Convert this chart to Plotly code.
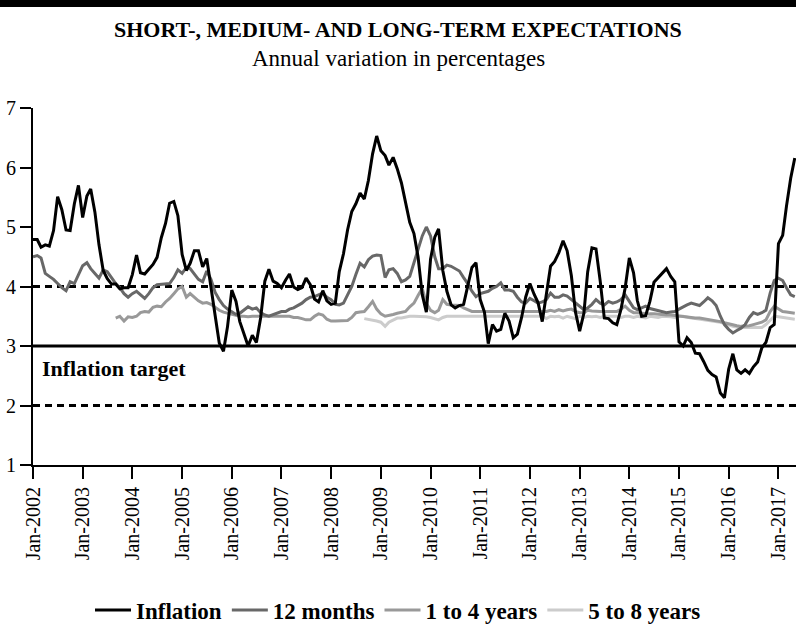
import pandas as pd
import plotly.graph_objects as go

# ---------------- data (monthly, annual % variation) ----------------
START_ALL = "2002-01-01"      # Inflation and 12 months start
START_1_4 = "2003-09-01"      # 1 to 4 years start
START_5_8 = "2008-09-01"      # 5 to 8 years start

inflation = [
    4.79, 4.79, 4.66, 4.70, 4.68, 4.94, 5.51, 5.29, 4.95, 4.94, 5.39, 5.70,  # 2002
    5.16, 5.52, 5.64, 5.25, 4.70, 4.27, 4.13, 4.04, 4.04, 3.96, 3.98, 3.98,  # 2003
    4.20, 4.53, 4.23, 4.21, 4.29, 4.37, 4.49, 4.82, 5.06, 5.40, 5.43, 5.19,  # 2004
    4.54, 4.27, 4.39, 4.60, 4.60, 4.33, 4.47, 3.95, 3.51, 3.05, 2.91, 3.33,  # 2005
    3.94, 3.75, 3.41, 3.20, 3.00, 3.18, 3.06, 3.47, 4.09, 4.29, 4.09, 4.05,  # 2006
    3.98, 4.11, 4.21, 3.99, 3.95, 3.98, 4.14, 4.03, 3.79, 3.74, 3.93, 3.76,  # 2007
    3.70, 3.72, 4.25, 4.55, 4.95, 5.26, 5.39, 5.57, 5.47, 5.78, 6.23, 6.53,  # 2008
    6.28, 6.20, 6.04, 6.17, 5.98, 5.74, 5.44, 5.08, 4.89, 4.50, 3.86, 3.57,  # 2009
    4.46, 4.83, 4.97, 4.27, 3.92, 3.69, 3.64, 3.68, 3.70, 4.02, 4.32, 4.40,  # 2010
    3.78, 3.57, 3.04, 3.36, 3.25, 3.28, 3.55, 3.42, 3.14, 3.20, 3.48, 3.82,  # 2011
    4.05, 3.87, 3.73, 3.41, 3.85, 4.34, 4.42, 4.57, 4.77, 4.60, 4.18, 3.57,  # 2012
    3.25, 3.55, 4.25, 4.65, 4.63, 4.09, 3.47, 3.46, 3.39, 3.36, 3.62, 3.97,  # 2013
    4.48, 4.23, 3.76, 3.50, 3.51, 3.75, 4.07, 4.15, 4.22, 4.30, 4.17, 4.08,  # 2014
    3.07, 3.00, 3.14, 3.06, 2.88, 2.87, 2.74, 2.59, 2.52, 2.48, 2.21, 2.13,  # 2015
    2.61, 2.87, 2.60, 2.54, 2.60, 2.54, 2.65, 2.73, 2.97, 3.06, 3.31, 3.36,  # 2016
    4.72, 4.86, 5.35, 5.82, 6.16,                                            # 2017
]

months_12 = [
    4.50, 4.52, 4.48, 4.22, 4.17, 4.12, 4.05, 3.98, 3.93, 4.08, 4.05, 4.20,  # 2002
    4.35, 4.40, 4.30, 4.22, 4.14, 4.28, 4.25, 4.15, 4.05, 3.98, 3.88, 3.82,  # 2003
    3.88, 3.92, 3.86, 3.80, 3.88, 3.98, 4.03, 4.04, 4.05, 4.05, 4.15, 4.28,  # 2004
    4.22, 4.32, 4.30, 4.20, 4.12, 4.08, 4.26, 4.12, 3.90, 3.78, 3.68, 3.62,  # 2005
    3.58, 3.53, 3.55, 3.60, 3.66, 3.62, 3.64, 3.56, 3.52, 3.50, 3.53, 3.56,  # 2006
    3.58, 3.58, 3.62, 3.64, 3.68, 3.72, 3.78, 3.82, 3.83, 3.86, 3.89, 3.82,  # 2007
    3.78, 3.70, 3.69, 3.72, 3.86, 4.00, 4.20, 4.39, 4.33, 4.45, 4.51, 4.53,  # 2008
    4.52, 4.15, 4.28, 4.30, 4.22, 4.08, 4.11, 4.17, 4.40, 4.62, 4.85, 5.00,  # 2009
    4.85, 4.50, 4.30, 4.30, 4.36, 4.34, 4.30, 4.26, 4.15, 4.05, 3.92, 3.83,  # 2010
    3.88, 3.90, 3.92, 3.97, 4.00, 4.06, 3.94, 3.94, 3.92, 3.82, 3.74, 3.72,  # 2011
    3.80, 3.76, 3.72, 3.74, 3.78, 3.89, 3.82, 3.82, 3.86, 3.84, 3.78, 3.72,  # 2012
    3.66, 3.61, 3.64, 3.70, 3.78, 3.72, 3.69, 3.75, 3.72, 3.74, 3.78, 3.86,  # 2013
    3.75, 3.64, 3.61, 3.64, 3.67, 3.63, 3.61, 3.59, 3.58, 3.56, 3.57, 3.58,  # 2014
    3.62, 3.66, 3.69, 3.72, 3.70, 3.68, 3.74, 3.81, 3.76, 3.68, 3.50, 3.36,  # 2015
    3.28, 3.22, 3.26, 3.30, 3.36, 3.48, 3.56, 3.53, 3.56, 3.60, 3.89, 4.10,  # 2016
    4.14, 4.10, 3.98, 3.86, 3.83,                                            # 2017
]

years_1_4 = [
    3.47, 3.50, 3.42, 3.49,                                                  # 2003 (Sep-Dec)
    3.48, 3.50, 3.56, 3.58, 3.57, 3.65, 3.67, 3.66, 3.74, 3.80, 3.88, 3.96,  # 2004
    4.00, 3.82, 3.88, 3.82, 3.76, 3.72, 3.73, 3.70, 3.65, 3.60, 3.57, 3.55,  # 2005
    3.53, 3.51, 3.50, 3.50, 3.49, 3.50, 3.50, 3.49, 3.50, 3.50, 3.49, 3.50,  # 2006
    3.50, 3.50, 3.50, 3.48, 3.48, 3.46, 3.44, 3.44, 3.50, 3.54, 3.52, 3.45,  # 2007
    3.42, 3.42, 3.42, 3.42, 3.43, 3.48, 3.56, 3.57, 3.58, 3.66, 3.75, 3.62,  # 2008
    3.54, 3.50, 3.52, 3.53, 3.55, 3.56, 3.58, 3.66, 3.72, 3.85, 3.97, 3.72,  # 2009
    3.60, 3.56, 3.60, 3.78, 3.70, 3.69, 3.69, 3.68, 3.64, 3.61, 3.58, 3.58,  # 2010
    3.58, 3.58, 3.58, 3.57, 3.58, 3.58, 3.58, 3.58, 3.57, 3.58, 3.58, 3.58,  # 2011
    3.58, 3.58, 3.57, 3.58, 3.58, 3.60, 3.58, 3.61, 3.59, 3.61, 3.62, 3.58,  # 2012
    3.56, 3.56, 3.60, 3.59, 3.58, 3.58, 3.58, 3.58, 3.58, 3.58, 3.62, 3.67,  # 2013
    3.60, 3.56, 3.56, 3.55, 3.55, 3.54, 3.54, 3.53, 3.53, 3.52, 3.52, 3.51,  # 2014
    3.50, 3.50, 3.49, 3.48, 3.47, 3.47, 3.46, 3.45, 3.44, 3.43, 3.41, 3.39,  # 2015
    3.37, 3.35, 3.34, 3.33, 3.33, 3.34, 3.36, 3.38, 3.40, 3.44, 3.58, 3.67,  # 2016
    3.62, 3.58, 3.57, 3.56, 3.55,                                            # 2017
]

years_5_8 = [
    3.46, 3.45, 3.44, 3.42,                                                  # 2008 (Sep-Dec)
    3.40, 3.33, 3.40, 3.44, 3.47, 3.47, 3.49, 3.50, 3.50, 3.50, 3.50, 3.49,  # 2009
    3.48, 3.46, 3.44, 3.48, 3.50, 3.50, 3.50, 3.50, 3.50, 3.50, 3.50, 3.50,  # 2010
    3.50, 3.50, 3.50, 3.50, 3.50, 3.50, 3.50, 3.50, 3.50, 3.50, 3.50, 3.50,  # 2011
    3.50, 3.50, 3.50, 3.50, 3.46, 3.50, 3.49, 3.50, 3.47, 3.50, 3.48, 3.46,  # 2012
    3.50, 3.48, 3.50, 3.49, 3.50, 3.48, 3.50, 3.50, 3.49, 3.50, 3.48, 3.50,  # 2013
    3.50, 3.48, 3.50, 3.49, 3.47, 3.50, 3.49, 3.48, 3.50, 3.50, 3.49, 3.48,  # 2014
    3.50, 3.50, 3.48, 3.47, 3.46, 3.45, 3.44, 3.44, 3.43, 3.42, 3.40, 3.38,  # 2015
    3.35, 3.33, 3.32, 3.31, 3.31, 3.31, 3.31, 3.31, 3.31, 3.36, 3.44, 3.50,  # 2016
    3.49, 3.48, 3.47, 3.46, 3.45,                                            # 2017
]

series_names = ["Inflation", "12 months", "1 to 4 years", "5 to 8 years"]
target_center = 3
target_upper = 4
target_lower = 2
target_label = "Inflation target"
title_text = "SHORT-, MEDIUM- AND LONG-TERM EXPECTATIONS"
subtitle_text = "Annual variation in percentages"

# ---------------- build figure ----------------
def dates(start, n):
    return pd.date_range(start, periods=n, freq="MS")

FONT = "Liberation Serif"
W, H = 796, 639
ML, MR, MT, MB = 33, 0, 108, 174
PW, PH = W - ML - MR, H - MT - MB

fig = go.Figure()
traces = [
    (series_names[3], dates(START_5_8, len(years_5_8)), years_5_8, "#cccccc"),
    (series_names[2], dates(START_1_4, len(years_1_4)), years_1_4, "#999999"),
    (series_names[1], dates(START_ALL, len(months_12)), months_12, "#686868"),
    (series_names[0], dates(START_ALL, len(inflation)), inflation, "#000000"),
]
for name, x, y, col in traces:
    fig.add_trace(go.Scatter(x=x, y=y, name=name, mode="lines",
                             line=dict(color=col, width=3)))

# reference lines
for val, dash in [(target_upper, "7px,5px"), (target_center, "solid"), (target_lower, "7px,5px")]:
    fig.add_shape(type="line", xref="paper", yref="y", x0=0, x1=1, y0=val, y1=val,
                  line=dict(color="black", width=3, dash=dash), layer="below")

# thick top rule
fig.add_shape(type="rect", xref="paper", yref="paper",
              x0=-ML / PW, x1=1.0, y0=1 + (MT - 7) / PH, y1=1 + MT / PH,
              fillcolor="black", line=dict(width=0), layer="above")

center_x = (W / 2 - ML) / PW
fig.add_annotation(text=f"<b>{title_text}</b>", xref="paper", yref="paper",
                   x=center_x, y=1 + (MT - 30) / PH, xanchor="center", yanchor="middle",
                   showarrow=False, font=dict(family=FONT, size=22, color="black"))
fig.add_annotation(text=subtitle_text, xref="paper", yref="paper",
                   x=center_x, y=1 + (MT - 58) / PH, xanchor="center", yanchor="middle",
                   showarrow=False, font=dict(family=FONT, size=23, color="black"))
fig.add_annotation(text=f"<b>{target_label}</b>", xref="paper", yref="y",
                   x=7 / PW, y=2.63, xanchor="left", yanchor="middle",
                   showarrow=False, font=dict(family=FONT, size=22, color="black"))

fig.update_layout(
    width=W, height=H,
    margin=dict(l=ML, r=MR, t=MT, b=MB, pad=0, autoexpand=False),
    paper_bgcolor="white", plot_bgcolor="white",
    font=dict(family=FONT, color="black", size=20),
    showlegend=True,
    legend=dict(orientation="h", traceorder="reversed",
                xref="container", yref="container",
                x=0.5, xanchor="center", y=1 - 610 / H, yanchor="middle",
                font=dict(family=FONT, size=23, color="black", weight="bold"),
                itemwidth=36, bgcolor="rgba(0,0,0,0)"),
)
fig.update_xaxes(type="date", range=["2002-01-01", "2017-05-10"], automargin=False,
                 tick0="2002-01-01", dtick="M12", tickformat="%b-%Y",
                 tickangle=-90, ticks="outside", ticklen=12, tickwidth=1.5,
                 tickcolor="black", showline=True, linecolor="black", linewidth=2,
                 showgrid=False, zeroline=False,
                 tickfont=dict(family=FONT, size=20, color="black"))
fig.update_yaxes(range=[1, 7], dtick=1, ticks="outside", ticklen=11, tickwidth=1.5,
                 automargin=False,
                 tickcolor="black", showline=True, linecolor="black", linewidth=2,
                 showgrid=False, zeroline=False,
                 tickfont=dict(family=FONT, size=20, color="black"))

fig.write_html("out.html", config={"displayModeBar": False},
               post_script="document.body.style.margin='0';")
